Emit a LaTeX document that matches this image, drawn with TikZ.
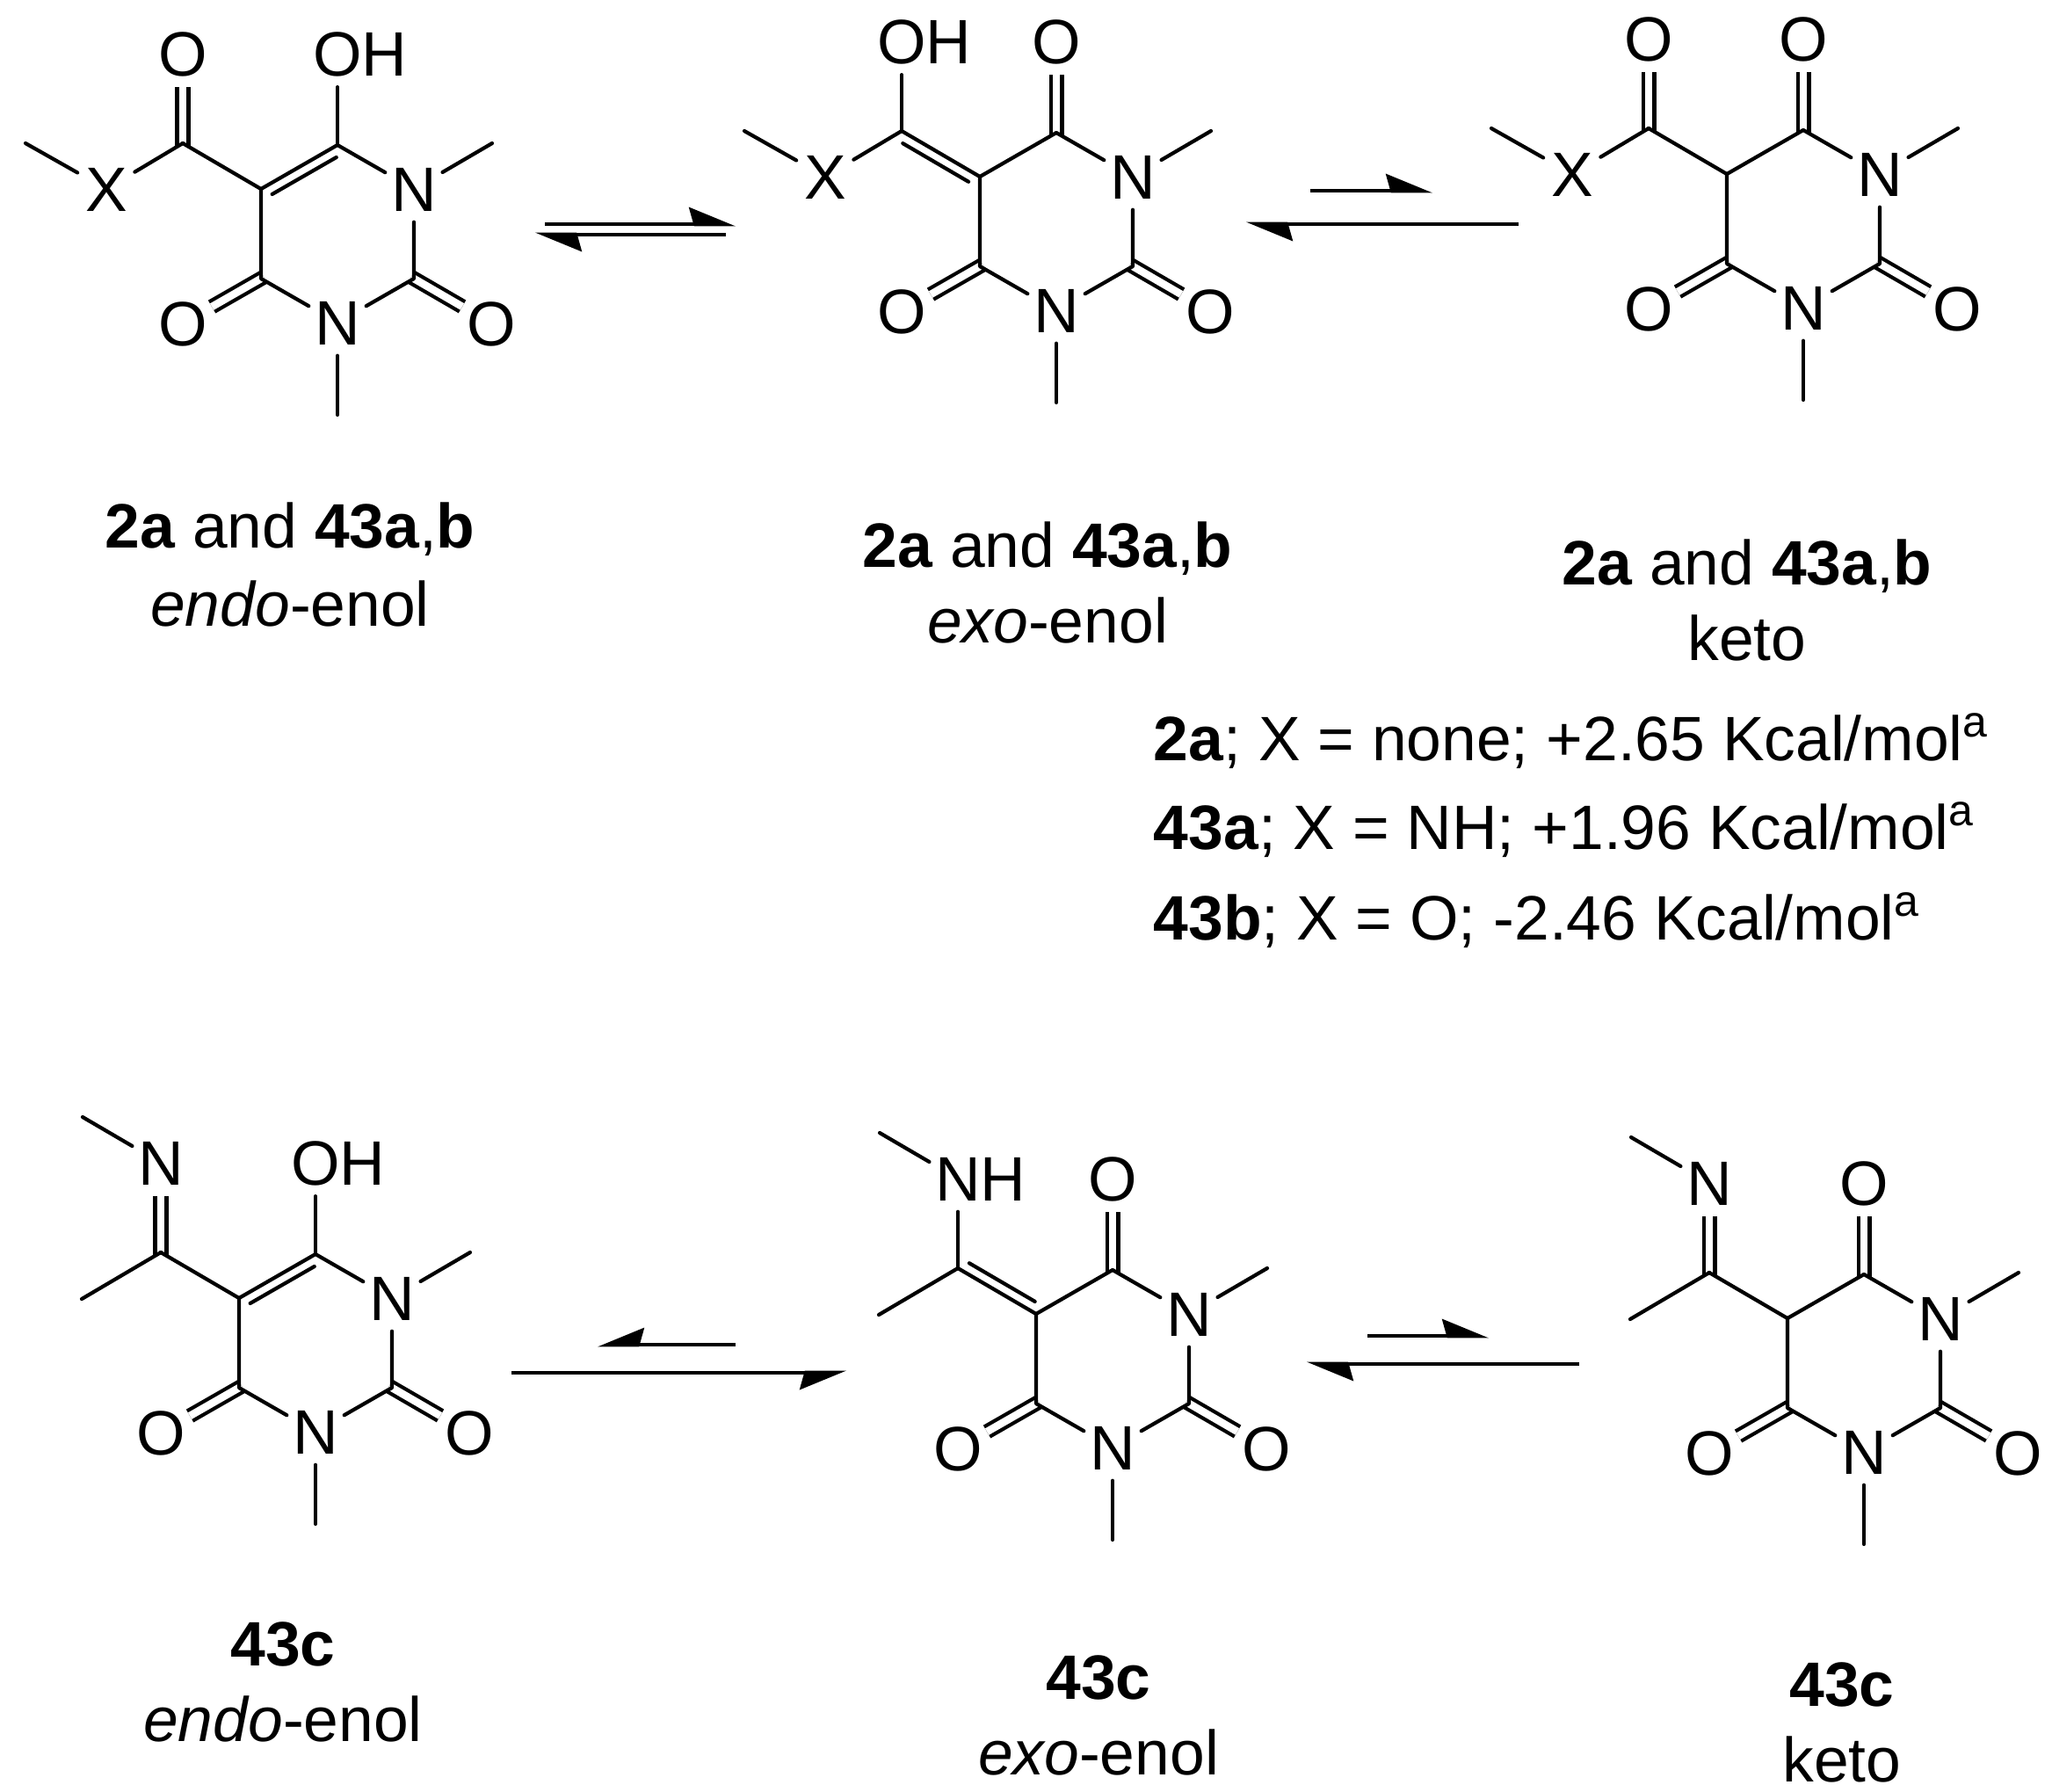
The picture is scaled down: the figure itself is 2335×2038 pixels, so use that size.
\documentclass[tikz,border=0pt]{standalone}
\usepackage{fontspec}
\setmainfont{Liberation Sans}
\usetikzlibrary{arrows.meta,calc}
\tikzset{
	atom/.style={circle,inner sep=0pt,minimum size=.74cm,text height=.5cm,text depth=0pt,font=\fontsize{20.3}{24}\selectfont},
	bond/.style={line width=.042cm},
	dblbond/.style={bond,double,double distance=.086cm,line cap=butt,shorten <=-.035cm},
	eqarrow/.style={line width=.047cm,line cap=butt,-{Stealth[harpoon,length=.47cm,width=.38cm,inset=.05cm]}},
	eqarrowr/.style={line width=.047cm,line cap=butt,-{Stealth[harpoon,swap,length=.47cm,width=.38cm,inset=.05cm]}},
	caption/.style={anchor=base,inner sep=0pt,font=\fontsize{20.3}{24}\selectfont},
	energy/.style={anchor=base west,inner sep=0pt,font=\fontsize{20.3}{24}\selectfont}
}
\begin{document}
\begin{tikzpicture}[x=.01cm,y=-.01cm,line join=round,line cap=round,>=stealth]
	\useasboundingbox (0,0) rectangle (2335,2038);
	% the six barbiturate rings
	\foreach \m/\cx/\cy/\six/\sub/\sixb/\subb in {
		ea/384/266/{O\rlap{H}}/O/bond/dblbond,
		xa/1202/252/O/{O\rlap{H}}/dblbond/bond,
		ka/2052/249/O/O/dblbond/dblbond,
		ec/359/1528/{O\rlap{H}}/N/bond/dblbond,
		xc/1266/1546/O/{N\rlap{H}}/dblbond/bond,
		kc/2121/1551/O/N/dblbond/dblbond}
	{
		\begin{scope}[shift={(\cx,\cy)}]
			\coordinate (\m-c6) at (0,-101);
			\coordinate (\m-c5) at (-87,-51);
			\coordinate (\m-c4) at (-87,51);
			\coordinate (\m-c2) at (87,51);
			\coordinate (\m-exo) at (-176,-103);
			\coordinate (\m-me1) at (176,-103);
			\coordinate (\m-me3) at (0,206);
			\node[atom] (\m-n1) at (87,-51) {N};
			\node[atom] (\m-n3) at (0,101) {N};
			\node[atom] (\m-o4) at (-176,102) {O};
			\node[atom] (\m-o2) at (175,102) {O};
			\node[atom] (\m-o6) at (0,-205) {\six};
			\node[atom] (\m-sub) at (-176,-205) {\sub};
		\end{scope}
		\draw[dblbond] (\m-c4)--(\m-o4);
		\draw[dblbond] (\m-c2)--(\m-o2);
		\draw[\sixb] (\m-c6)--(\m-o6);
		\draw[\subb] (\m-exo)--(\m-sub);
		\draw[bond] (\m-c5)--(\m-c4)--(\m-n3);
		\draw[bond] (\m-n3)--(\m-c2)--(\m-n1);
		\draw[bond] (\m-n1)--(\m-c6)--(\m-c5)--(\m-exo);
		\draw[bond] (\m-n1)--(\m-me1);
		\draw[bond] (\m-n3)--(\m-me3);
	}
	% X side chains, top row
	\foreach \m in {ea,xa,ka}
	{
		\node[atom] (\m-x) at ([shift={(-87,52)}]\m-exo) {X};
		\coordinate (\m-mex) at ([shift={(-179,0)}]\m-exo);
		\draw[bond] (\m-exo)--(\m-x)--(\m-mex);
	}
	% methyls on the nitrogen side chains, bottom row
	\foreach \m in {ec,xc,kc}
	{
		\coordinate (\m-mec) at ([shift={(-90,53)}]\m-exo);
		\coordinate (\m-men) at ([shift={(-89,-52)}]\m-sub);
		\draw[bond] (\m-exo)--(\m-mec);
		\draw[bond] (\m-sub)--(\m-men);
	}
	% short inner line of the C=C bonds
	\foreach \a/\b in {ea-c5/ea-c6,xa-exo/xa-c5,ec-c5/ec-c6,xc-c5/xc-exo}
	\draw[bond] ($(\a)!.08!(\b)!.115cm!-90:(\b)$)--($(\b)!.08!(\a)!.115cm!90:(\a)$);
	% equilibrium arrows
	\foreach \n/\sx/\ex/\y/\tip in {
		aa/620/837/255/eqarrow,ab/826/609/267/eqarrow,
		ba/1491/1630/217/eqarrow,bb/1728/1418/255/eqarrow,
		ca/837/680/1530/eqarrowr,cb/582/963/1562/eqarrowr,
		da/1556/1694/1520/eqarrow,db/1797/1487/1552/eqarrow}
	{
		\coordinate (\n-s) at (\sx,\y);
		\coordinate (\n-e) at (\ex,\y);
		\draw[\tip] (\n-s)--(\n-e);
	}
	% captions
	\node[caption] (ea-name) at (330,623) {\textbf{2a} and \textbf{43a},\textbf{b}};
	\node[caption] (ea-form) at (330,712) {\textit{endo}-enol};
	\node[caption] (xa-name) at (1192,645) {\textbf{2a} and \textbf{43a},\textbf{b}};
	\node[caption] (xa-form) at (1192,731) {\textit{exo}-enol};
	\node[caption] (ka-name) at (1988,665) {\textbf{2a} and \textbf{43a},\textbf{b}};
	\node[caption] (ka-form) at (1988,751) {keto};
	\node[caption] (ec-name) at (322,1895) {\textbf{43c}};
	\node[caption] (ec-form) at (322,1981) {\textit{endo}-enol};
	\node[caption] (xc-name) at (1250,1933) {\textbf{43c}};
	\node[caption] (xc-form) at (1250,2019) {\textit{exo}-enol};
	\node[caption] (kc-name) at (2096,1941) {\textbf{43c}};
	\node[caption] (kc-form) at (2096,2027) {keto};
	% energies
	\node[energy] (e2a) at (1312,865) {\textbf{2a}; X = none; +2.65 Kcal/mol\textsuperscript{a}};
	\node[energy] (e43a) at (1312,966) {\textbf{43a}; X = NH; +1.96 Kcal/mol\textsuperscript{a}};
	\node[energy] (e43b) at (1312,1069) {\textbf{43b}; X = O; -2.46 Kcal/mol\textsuperscript{a}};
\end{tikzpicture}
\end{document}
